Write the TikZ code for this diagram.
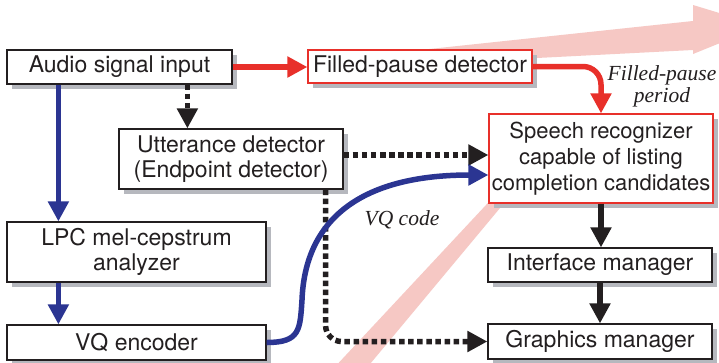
\documentclass[tikz,border=0pt]{standalone}
\usepackage{fontspec}
\setmainfont{TeX Gyre Heros}
\newfontfamily\labelserif{Liberation Serif}
\usetikzlibrary{arrows.meta,shadows}

\definecolor{inkgray}{HTML}{231F20}
\definecolor{boxred}{HTML}{E8302A}
\definecolor{flowblue}{HTML}{2B3592}
\definecolor{bandpink}{HTML}{F6C8C4}
\definecolor{shadowgray}{HTML}{B6B8BE}

\tikzset{
  blk/.style={draw=inkgray, line width=1.2pt, fill=white, inner sep=0pt,
    align=center, text=inkgray, font=\fontsize{23}{25}\selectfont,
    drop shadow={shadow xshift=5pt, shadow yshift=-5pt, fill=shadowgray, opacity=1}},
  redblk/.style={blk, draw=boxred},
  tiphead/.style={-{Triangle[length=20pt,width=20pt]}},
  redflow/.style={tiphead, color=boxred, line width=5.5pt},
  blueflow/.style={tiphead, color=flowblue, line width=5.5pt},
  blackflow/.style={tiphead, color=inkgray, line width=5.5pt},
  dotflow/.style={tiphead, color=inkgray, line width=5.5pt, dash pattern=on 5.5pt off 3.6pt},
  italabel/.style={font=\labelserif\itshape\fontsize{21.5}{22}\selectfont, text=inkgray, align=center, inner sep=0pt}
}

\begin{document}
\begin{tikzpicture}[x=1pt, y=-1pt]
  % page area
  \fill[white] (0,0) rectangle (719,362);
  \useasboundingbox (0,0) rectangle (719,362);

  % pale background band: rising diagonal part and the arrow to the upper right
  \fill[bandpink] (332,370) -- (365,370) -- (515,190) -- (500,190) -- cycle;
  \fill[bandpink] (420,50) -- (693,21) -- (693,5) -- (762,26) -- (693,54)
        -- (693,50) -- (420,64) -- cycle;

  % blocks
  \node[blk, minimum width=225pt, minimum height=34pt] (audio) at (119.5,67) {Audio signal input};
  \node[redblk, minimum width=224pt, minimum height=33pt] (fpd) at (420,66.5) {Filled-pause detector};
  \node[blk, minimum width=224pt, minimum height=60pt] (utt) at (231,159) {Utterance detector\\(Endpoint detector)};
  \node[blk, minimum width=259pt, minimum height=60pt] (lpc) at (136.5,252) {LPC mel-cepstrum\\analyzer};
  \node[blk, minimum width=259pt, minimum height=35pt] (vq) at (136.5,342.5) {VQ encoder};
  \node[redblk, minimum width=224pt, minimum height=89pt, font=\fontsize{22}{26}\selectfont] (sr) at (601,158.5)
        {Speech recognizer\\capable of listing\\completion candidates};
  \node[blk, minimum width=224pt, minimum height=34pt] (im) at (600,265) {Interface manager};
  \node[blk, minimum width=224pt, minimum height=35pt] (gm) at (600,341.5) {Graphics manager};

  % labels
  \node[italabel] (fplabel) at (662,86) {Filled-pause\\period};
  \node[italabel] (vqlabel) at (402,220) {VQ code};

  % connectors
  \draw[redflow] (audio.east) -- (audio.east -| fpd.west);
  \draw[redflow, rounded corners=18pt] (fpd.east) -| (sr.north);

  \draw[dotflow] ([xshift=69pt]utt.north west |- audio.south) -- ([xshift=69pt]utt.north west);
  \draw[dotflow] ([yshift=4pt]utt.east) -- ([yshift=4pt]utt.east -| sr.west);
  \draw[dotflow, rounded corners=16pt] ([xshift=-18pt]utt.south east) |- (gm.west);

  \draw[blueflow] ([xshift=52pt]lpc.north west |- audio.south) -- ([xshift=52pt]lpc.north west);
  \draw[blueflow] ([xshift=52pt]vq.north west |- lpc.south) -- ([xshift=52pt]vq.north west);
  \coordinate (vqbend) at (302,300);
  \draw[blueflow] (vq.east) .. controls (300,342.5) and (300,330) .. (vqbend)
        .. controls (305,220) and (360,175) .. ([yshift=-16.5pt]sr.west);

  \draw[blackflow] (sr.south) -- (sr.south |- im.north);
  \draw[blackflow] (im.south) -- (gm.north);
\end{tikzpicture}
\end{document}
